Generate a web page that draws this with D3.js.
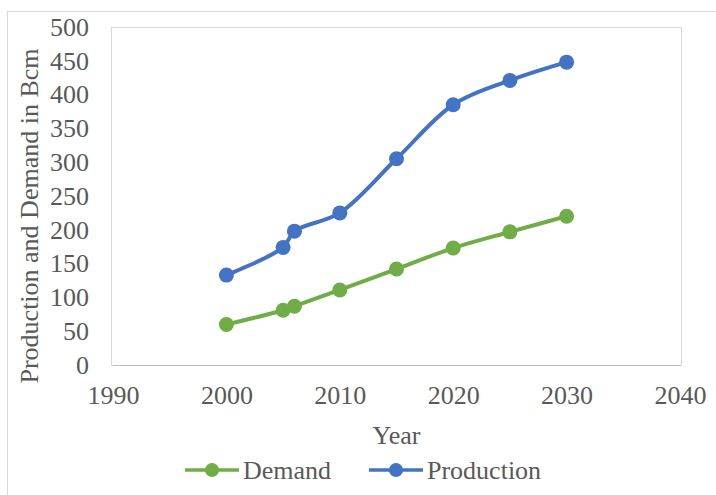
<!DOCTYPE html>
<html>
<head>
<meta charset="utf-8">
<script src="https://cdn.jsdelivr.net/npm/d3@7"></script>
<style>
  body { margin: 0; background: #fff; }
  text { font-family: "Liberation Serif", "Times New Roman", serif; fill: #595959; }
</style>
</head>
<body>
<div id="chart-area"></div>
<script>
// data
var years = [2000, 2005, 2006, 2010, 2015, 2020, 2025, 2030];
var demand = [60, 81, 87, 111, 142, 173, 197, 220];
var production = [133, 174, 198, 225, 305, 385, 421, 448];
var xTicks = [1990, 2000, 2010, 2020, 2030, 2040];
var yTicks = [0, 50, 100, 150, 200, 250, 300, 350, 400, 450, 500];

var W = 716, H = 495;
var margin = { left: 113, right: 36, top: 27, bottom: 130 };
var width = W - margin.left - margin.right,
    height = H - margin.top - margin.bottom;

var svg = d3.select("#chart-area").append("svg")
    .attr("width", W)
    .attr("height", H);

// outer chart frame
svg.append("rect")
    .attr("x", 7.5).attr("y", 11.5)
    .attr("width", W).attr("height", H)
    .attr("fill", "none")
    .attr("stroke", "#d9d9d9");

var g = svg.append("g")
    .attr("transform", "translate(" + margin.left + "," + margin.top + ")");

var x = d3.scaleLinear().domain([1990, 2040]).range([0, width]);
var y = d3.scaleLinear().domain([0, 500]).range([height, 0]);

// plot area border
g.append("rect")
    .attr("x", -1.5).attr("y", 0.5)
    .attr("width", width + 3).attr("height", height)
    .attr("fill", "none")
    .attr("stroke", "#d9d9d9");

// axes
var xAxis = g.append("g")
    .attr("transform", "translate(0," + height + ")")
    .call(d3.axisBottom(x).tickValues(xTicks).tickFormat(d3.format("d")).tickSize(0).tickPadding(21));
xAxis.select(".domain").attr("stroke", "#bfbfbf");
xAxis.selectAll("text").style("font-size", "26px").attr("fill", "#595959")
    .style("font-family", "Liberation Serif, serif");

var yAxis = g.append("g")
    .call(d3.axisLeft(y).tickValues(yTicks).tickSize(0).tickPadding(24));
yAxis.select(".domain").remove();
yAxis.selectAll("text").style("font-size", "26px").attr("fill", "#595959")
    .style("font-family", "Liberation Serif, serif");

// axis titles
g.append("text")
    .attr("x", width / 2)
    .attr("y", height + 79)
    .attr("text-anchor", "middle")
    .style("font-size", "26px")
    .text("Year");

g.append("text")
    .attr("transform", "rotate(-90)")
    .attr("x", -(216 - margin.top))
    .attr("y", 38 - margin.left)
    .attr("text-anchor", "middle")
    .style("font-size", "26px")
    .text("Production and Demand in Bcm");

// series
var series = [
  { name: "Demand", values: demand, color: "#70AD47" },
  { name: "Production", values: production, color: "#4472C4" }
];

var line = d3.line()
    .x(function(d, i) { return x(years[i]); })
    .y(function(d) { return y(d); })
    .curve(d3.curveCatmullRom.alpha(0.5));

series.forEach(function(s) {
  g.append("path")
      .datum(s.values)
      .attr("d", line)
      .attr("fill", "none")
      .attr("stroke", s.color)
      .attr("stroke-width", 4)
      .attr("stroke-linecap", "round");

  g.selectAll(".pt-" + s.name)
      .data(s.values)
      .enter().append("circle")
      .attr("cx", function(d, i) { return x(years[i]); })
      .attr("cy", function(d) { return y(d); })
      .attr("r", 7.5)
      .attr("fill", s.color);
});

// legend
var legendX = [185, 369];
var leg = svg.append("g").attr("transform", "translate(0,470)");
series.forEach(function(s, i) {
  var lx = legendX[i];
  leg.append("line")
      .attr("x1", lx).attr("x2", lx + 54)
      .attr("y1", 0).attr("y2", 0)
      .attr("stroke", s.color)
      .attr("stroke-width", 3.5);
  leg.append("circle")
      .attr("cx", lx + 27).attr("cy", 0)
      .attr("r", 7)
      .attr("fill", s.color);
  leg.append("text")
      .attr("x", lx + 58)
      .attr("y", 9)
      .style("font-size", "26px")
      .text(s.name);
});
</script>
</body>
</html>
